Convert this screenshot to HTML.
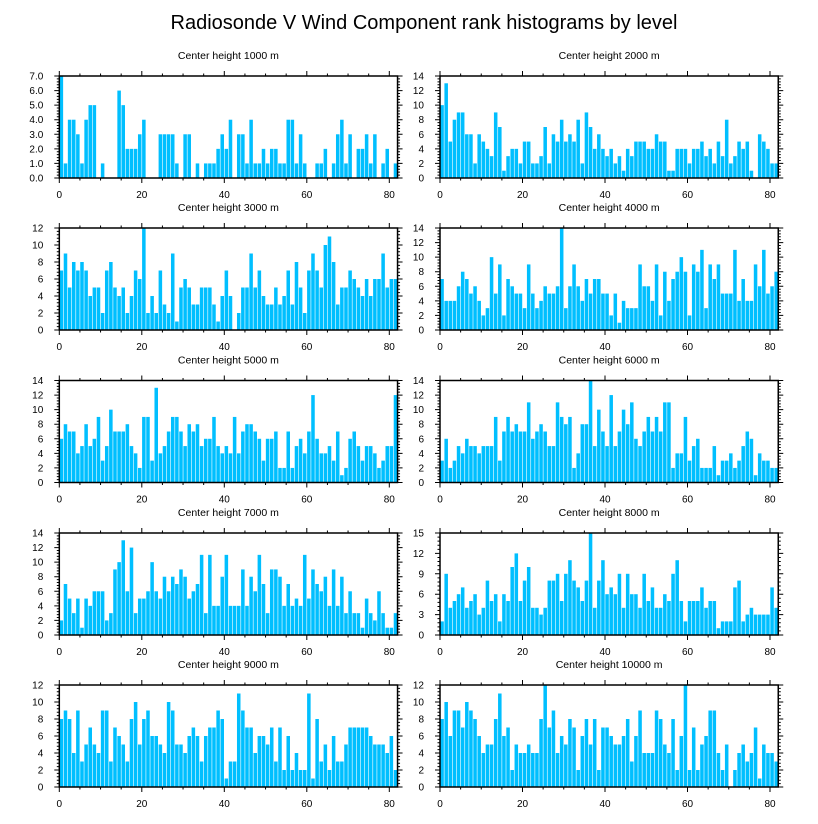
<!DOCTYPE html>
<html><head><meta charset="utf-8">
<style>
html,body{margin:0;padding:0;background:#fff;}
svg{display:block;font-family:"Liberation Sans",sans-serif;}
</style></head>
<body>
<svg id="chart" width="818" height="824" viewBox="0 0 818 824" xmlns="http://www.w3.org/2000/svg">
<text x="424" y="29" text-anchor="middle" font-size="20">Radiosonde V Wind Component rank histograms by level</text>
</svg>
<script>
const panelTitles = ["Center height 1000 m","Center height 2000 m","Center height 3000 m","Center height 4000 m","Center height 5000 m","Center height 6000 m","Center height 7000 m","Center height 8000 m","Center height 9000 m","Center height 10000 m"];
const yMax = [7,14,12,14,14,14,14,15,12,12];
const yStep = [1,2,2,2,2,2,2,3,2,2];
const yDecimals = [1,0,0,0,0,0,0,0,0,0];
const xTicks = [0,20,40,60,80];
const s1000 = [7,1,4,4,3,1,4,5,5,0,1,0,0,0,6,5,2,2,2,3,4,0,0,0,3,3,3,3,1,0,3,3,0,1,0,1,1,1,2,3,2,4,0,3,3,1,4,1,1,2,1,2,2,1,1,4,4,1,3,1,0,0,1,1,2,0,1,3,4,1,3,0,2,2,3,1,3,0,1,2,0,1];
const s2000 = [10,13,5,8,9,9,6,6,2,6,5,4,3,9,7,1,3,4,4,2,5,5,2,2,3,7,2,6,5,8,5,6,5,8,2,9,7,4,6,4,3,4,2,3,1,4,3,5,5,5,4,4,6,5,5,1,1,4,4,4,2,4,4,5,3,4,2,5,3,8,2,3,5,4,5,1,0,6,5,4,2,2];
const s3000 = [7,9,5,8,7,8,7,4,5,5,2,7,8,5,4,5,2,4,7,6,12,2,4,2,7,3,2,9,1,5,6,5,3,3,5,5,5,3,1,4,7,4,0,2,5,5,9,5,7,4,3,3,5,3,4,7,3,8,5,2,7,9,7,5,10,11,8,3,5,5,7,6,5,4,6,4,6,6,9,5,6,6];
const s4000 = [7,4,4,4,6,8,7,5,6,4,2,3,10,5,9,2,7,6,5,5,3,9,5,3,4,6,5,5,6,14,3,6,9,6,4,7,5,7,7,5,5,2,5,1,4,3,3,3,9,6,6,4,9,2,8,4,7,8,10,8,2,9,8,11,3,9,7,9,5,5,5,11,4,7,4,4,9,6,11,5,6,8];
const s5000 = [6,8,7,7,4,5,8,5,6,9,3,5,10,7,7,7,8,5,4,2,9,9,3,13,4,5,7,9,9,7,5,8,7,8,5,6,6,9,5,4,5,4,9,4,7,8,8,7,6,3,6,6,7,2,2,7,2,5,6,4,7,12,6,4,4,5,3,7,1,2,6,7,5,3,5,5,4,2,3,5,5,12];
const s6000 = [3,6,2,3,5,4,6,5,5,4,5,5,5,9,3,7,9,7,8,7,7,11,6,7,8,7,5,5,11,9,8,9,2,4,8,8,14,5,10,7,5,12,5,7,10,8,11,6,5,7,9,7,9,7,11,11,2,4,4,9,3,5,6,2,2,2,5,1,3,3,4,2,3,5,7,6,1,4,3,3,2,2];
const s7000 = [2,7,5,3,5,1,5,4,6,6,6,2,3,9,10,13,6,12,3,5,5,6,10,6,5,8,6,8,7,9,8,5,6,7,11,3,11,4,4,8,11,4,4,4,9,4,8,6,11,7,3,9,9,8,4,7,4,5,4,11,5,9,7,6,8,4,9,4,8,3,6,3,3,1,5,3,2,6,3,1,1,3];
const s8000 = [2,9,4,5,6,7,4,5,6,3,4,8,5,6,2,6,5,10,12,5,8,10,4,4,3,4,8,8,9,5,9,11,8,7,5,8,15,4,8,11,6,7,6,9,4,9,6,6,4,9,5,7,4,4,6,5,9,11,5,2,5,5,5,7,4,5,5,1,2,2,2,7,8,2,3,4,3,3,3,3,7,4];
const s9000 = [8,9,8,4,9,3,5,7,5,4,9,9,3,7,6,5,3,8,10,5,8,9,6,6,5,4,10,9,5,5,4,6,7,6,3,6,7,7,9,8,1,3,3,11,9,7,7,4,6,6,5,7,3,7,2,6,2,4,2,2,11,1,8,3,5,2,6,3,3,5,7,7,7,7,7,6,5,5,5,4,6,2];
const s10000 = [8,10,6,9,9,7,10,9,8,6,4,5,5,8,11,6,7,2,5,4,4,5,4,4,8,12,7,9,4,6,5,8,7,2,6,8,5,8,2,7,7,6,5,5,6,8,3,6,9,4,4,4,9,8,5,4,8,2,6,12,2,7,2,5,6,9,9,4,2,5,0,2,4,5,3,4,7,1,5,4,4,3];
const seriesList = [s1000,s2000,s3000,s4000,s5000,s6000,s7000,s8000,s9000,s10000];

const NS = "http://www.w3.org/2000/svg";
const svg = document.getElementById('chart');
const colX = [59.3, 440];
const rowY = [76, 228, 380.5, 533, 685];
const PW = 82*4.125, PH = 102, XMAX = 82;
function mk(tag, attrs, parent){const e=document.createElementNS(NS,tag);for(const k in attrs)e.setAttribute(k,attrs[k]);(parent||svg).appendChild(e);return e;}

seriesList.forEach((vals, p) => {
  const x0 = colX[p%2], y0 = rowY[Math.floor(p/2)];
  const g = mk('g', {});
  
  
  const xs = v => x0 + v/XMAX*PW;
  const ys = v => y0 + PH - v/yMax[p]*PH;
  const t = mk('text', {x: x0+PW/2, y: y0-17, 'text-anchor':'middle', 'font-size':'10.5'}, g);
  t.textContent = panelTitles[p];
  
  
  vals.forEach((v, i) => {
    if (v <= 0) return;
    const r = mk('rect', {x: xs(i)+0.3, y: ys(v), width: PW/XMAX-0.6, height: ys(0)-ys(v), fill:'#00bfff'}, g);
    
    
  });
  const fr = mk('rect', {x:x0, y:y0, width:PW, height:PH, fill:'none', stroke:'#000', 'stroke-width':'1.5'}, g);
  
  
  let d = '';
  for (let v=0; v<=XMAX; v+=5) {
    const major = v%20===0, L = major?5:2.5, X = xs(v);
    d += `M${X} ${y0+PH}v${L}M${X} ${y0}v${-L}`;
  }
  const minorStep = yStep[p]/5;
  for (let k=0; k*minorStep<=yMax[p]+1e-9; k++) {
    const v = k*minorStep, major = k%5===0, L = major?5:2.5, Y = ys(v);
    d += `M${x0} ${Y}h${-L}M${x0+PW} ${Y}h${L}`;
  }
  const tk = mk('path', {d, stroke:'#000', 'stroke-width':'1', fill:'none'}, g);
  
  
  xTicks.forEach(v => {
    const tx = mk('text', {x: xs(v), y: y0+PH+20, 'text-anchor':'middle', 'font-size':'10'}, g);
    tx.textContent = v;
    
    
  });
  for (let v=0; v<=yMax[p]+1e-9; v+=yStep[p]) {
    const ty = mk('text', {x: x0-16, y: ys(v)+3.5, 'text-anchor':'end', 'font-size':'10'}, g);
    ty.textContent = v.toFixed(yDecimals[p]);
    
    
  }
});
</script>
</body></html>
